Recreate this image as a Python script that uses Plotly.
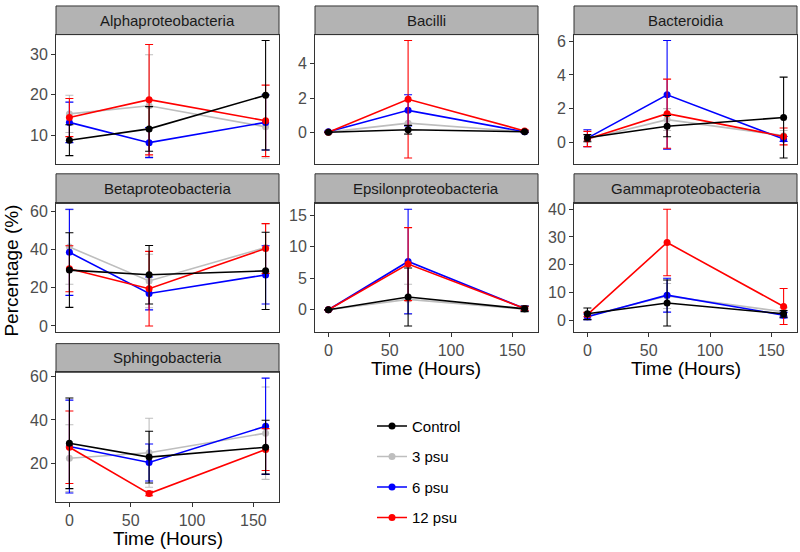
import plotly.graph_objects as go

times = [0, 65, 160]
series = ["Control", "3 psu", "6 psu", "12 psu"]
colors = {"Control": "#000000", "3 psu": "#BEBEBE", "6 psu": "#0000FF", "12 psu": "#FF0000"}
facets = ["Alphaproteobacteria", "Bacilli", "Bacteroidia", "Betaproteobacteria",
          "Epsilonproteobacteria", "Gammaproteobacteria", "Sphingobacteria"]

alpha_mean = {"Control": [8.8, 11.6, 19.9], "3 psu": [15.3, 17.3, 12.1],
              "6 psu": [13.2, 8.2, 13.2], "12 psu": [14.4, 18.8, 13.6]}
alpha_sd = {"Control": [3.8, 5.5, 13.5], "3 psu": [4.6, 12.6, 7.7],
            "6 psu": [5.0, 3.7, 6.8], "12 psu": [4.7, 13.6, 8.8]}

bacilli_mean = {"Control": [0.02, 0.17, 0.05], "3 psu": [0.03, 0.55, 0.05],
                "6 psu": [0.05, 1.29, 0.05], "12 psu": [0.02, 1.93, 0.1]}
bacilli_sd = {"Control": [0.03, 0.25, 0.04], "3 psu": [0.03, 0.65, 0.05],
              "6 psu": [0.05, 0.9, 0.05], "12 psu": [0.03, 3.4, 0.06]}

bacteroidia_mean = {"Control": [0.27, 0.96, 1.47], "3 psu": [0.2, 1.35, 0.4],
                    "6 psu": [0.25, 2.82, 0.2], "12 psu": [0.2, 1.7, 0.35]}
bacteroidia_sd = {"Control": [0.2, 0.63, 2.4], "3 psu": [0.2, 0.65, 0.3],
                  "6 psu": [0.5, 3.22, 0.15], "12 psu": [0.45, 2.05, 0.5]}

beta_mean = {"Control": [29.2, 26.8, 28.8], "3 psu": [41.3, 23.5, 41.0],
             "6 psu": [38.5, 17.0, 26.7], "12 psu": [29.9, 19.5, 40.5]}
beta_sd = {"Control": [19.5, 15.3, 20.2], "3 psu": [19.5, 14.0, 12.5],
           "6 psu": [22.5, 8.6, 15.2], "12 psu": [12.0, 19.5, 13.0]}

epsilon_mean = {"Control": [0.0, 2.03, 0.15], "3 psu": [0.0, 1.66, 0.1],
                "6 psu": [0.0, 7.67, 0.2], "12 psu": [0.0, 7.26, 0.2]}
epsilon_sd = {"Control": [0.05, 4.6, 0.45], "3 psu": [0.05, 2.4, 0.2],
              "6 psu": [0.05, 8.3, 0.4], "12 psu": [0.05, 5.8, 0.3]}

gamma_mean = {"Control": [2.3, 6.2, 2.3], "3 psu": [1.5, 8.7, 3.0],
              "6 psu": [1.2, 9.0, 1.8], "12 psu": [2.0, 28.0, 4.9]}
gamma_sd = {"Control": [2.1, 8.3, 1.2], "3 psu": [1.0, 4.5, 1.5],
            "6 psu": [1.0, 6.1, 1.0], "12 psu": [0.8, 12.0, 6.5]}

sphingo_mean = {"Control": [29.2, 22.8, 27.4], "3 psu": [22.3, 24.8, 33.9],
                "6 psu": [27.7, 20.3, 37.1], "12 psu": [27.4, 5.9, 26.3]}
sphingo_sd = {"Control": [21.0, 12.0, 12.5], "3 psu": [15.5, 16.0, 21.4],
              "6 psu": [21.5, 8.6, 22.3], "12 psu": [16.8, 1.0, 9.7]}

y_ticks = [[10, 20, 30], [0, 2, 4], [0, 2, 4, 6], [0, 20, 40, 60],
           [0, 5, 10, 15], [0, 10, 20, 30, 40], [20, 40, 60]]
x_ticks = [0, 50, 100, 150]

means = [alpha_mean, bacilli_mean, bacteroidia_mean, beta_mean, epsilon_mean, gamma_mean, sphingo_mean]
sds = [alpha_sd, bacilli_sd, bacteroidia_sd, beta_sd, epsilon_sd, gamma_sd, sphingo_sd]

W, H = 800, 552
col_px = [(56, 279), (315, 538), (574, 797)]
row_px = [(31, 162), (202, 332), (373, 504)]
strip_px = [(2, 31), (172, 202), (344, 373)]
pos = [(0, 0), (0, 1), (0, 2), (1, 0), (1, 1), (1, 2), (2, 0)]
xlab = {4, 5, 6}

FONT = "Liberation Sans, Arial, sans-serif"
draw_order = ["3 psu", "6 psu", "12 psu", "Control"]
rank = {s: i for i, s in enumerate(series)}

ebw = 5.3
xr = max(times) - min(times) + ebw
x_range = [min(times) - ebw / 2 - 0.05 * xr, max(times) + ebw / 2 + 0.05 * xr]

fig = go.Figure()
shapes = []
annotations = []
layout_axes = {}

for i, name in enumerate(facets):
    r, c = pos[i]
    k = "" if i == 0 else str(i + 1)
    m, s = means[i], sds[i]
    for ser in draw_order:
        fig.add_trace(go.Scatter(
            x=times, y=m[ser], mode="lines+markers", name=ser,
            xaxis="x" + k, yaxis="y" + k,
            line=dict(color=colors[ser], width=1.6),
            marker=dict(color=colors[ser], size=7),
            error_y=dict(type="data", array=s[ser], visible=True,
                         color=colors[ser], thickness=1.1, width=4),
            legendgroup=ser, showlegend=(i == 0), legendrank=rank[ser],
        ))
    lo = min(mv - sv for ser in series for mv, sv in zip(m[ser], s[ser]))
    hi = max(mv + sv for ser in series for mv, sv in zip(m[ser], s[ser]))
    pad = 0.05 * (hi - lo)
    x0, x1 = col_px[c]
    y0, y1 = row_px[r]
    show_x = i in xlab
    layout_axes["xaxis" + k] = dict(
        domain=[x0 / W, x1 / W], anchor="y" + k, range=x_range,
        showgrid=False, zeroline=False, showline=True, mirror=True,
        linecolor="#333333", linewidth=1,
        ticks="outside" if show_x else "", ticklen=4, tickcolor="#333333",
        tickvals=x_ticks, showticklabels=show_x,
        tickfont=dict(family=FONT, size=16, color="#4D4D4D"),
    )
    layout_axes["yaxis" + k] = dict(
        domain=[1 - y1 / H, 1 - y0 / H], anchor="x" + k, range=[lo - pad, hi + pad],
        showgrid=False, zeroline=False, showline=True, mirror=True,
        linecolor="#333333", linewidth=1,
        ticks="outside", ticklen=4, tickcolor="#333333", tickvals=y_ticks[i],
        tickfont=dict(family=FONT, size=16, color="#4D4D4D"),
    )
    sy0, sy1 = strip_px[r]
    shapes.append(dict(type="rect", xref="paper", yref="paper",
                       x0=x0 / W, x1=x1 / W, y0=1 - sy1 / H, y1=1 - sy0 / H,
                       fillcolor="#B3B3B3", line=dict(color="#333333", width=1), layer="below"))
    annotations.append(dict(text=name, xref="paper", yref="paper",
                            x=(x0 + x1) / 2 / W, y=1 - (sy0 + sy1) / 2 / H,
                            xanchor="center", yanchor="middle", showarrow=False,
                            font=dict(family=FONT, size=15, color="#1A1A1A")))
    if show_x:
        annotations.append(dict(text="Time (Hours)", xref="paper", yref="paper",
                                x=(x0 + x1) / 2 / W, y=1 - (y1 + 37) / H,
                                xanchor="center", yanchor="middle", showarrow=False,
                                font=dict(family=FONT, size=19, color="#000000")))

annotations.append(dict(text="Percentage (%)", xref="paper", yref="paper",
                        x=12 / W, y=1 - 270 / H, xanchor="center", yanchor="middle",
                        textangle=-90, showarrow=False,
                        font=dict(family=FONT, size=19, color="#000000")))

fig.update_layout(
    width=W, height=H, margin=dict(l=0, r=0, t=0, b=0),
    paper_bgcolor="white", plot_bgcolor="white",
    shapes=shapes, annotations=annotations,
    showlegend=True,
    legend=dict(x=372 / W, y=1 - 411 / H, xanchor="left", yanchor="top",
                font=dict(family=FONT, size=15, color="#000000"),
                tracegroupgap=8, bgcolor="rgba(0,0,0,0)"),
    **layout_axes,
)

fig.write_html("out.html", config={"displayModeBar": False},
               post_script="document.body.style.margin='0';document.body.style.overflow='hidden';")
